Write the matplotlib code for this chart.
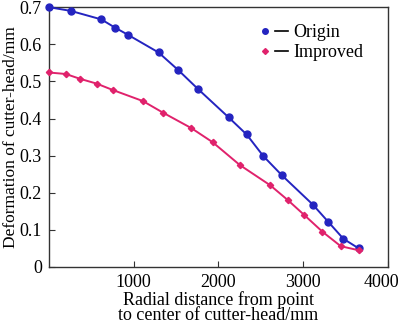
import matplotlib.pyplot as plt
import matplotlib.transforms as mtransforms
from matplotlib.lines import Line2D
from matplotlib.legend_handler import HandlerTuple

plt.rcParams['font.family'] = ['Liberation Serif', 'DejaVu Serif']

# Data
x_origin = [0, 259, 620, 780, 938, 1294, 1529, 1757, 2121, 2333, 2529, 2749, 3114, 3294, 3474, 3655]
y_origin = [0.700, 0.690, 0.667, 0.645, 0.625, 0.578, 0.530, 0.480, 0.403, 0.357, 0.299, 0.247, 0.168, 0.122, 0.076, 0.050]

x_improved = [0, 200, 368, 565, 753, 1110, 1345, 1682, 1933, 2251, 2612, 2820, 3008, 3227, 3443, 3655]
y_improved = [0.524, 0.520, 0.507, 0.494, 0.477, 0.447, 0.416, 0.374, 0.336, 0.275, 0.220, 0.180, 0.141, 0.095, 0.056, 0.045]

blue = '#2424c0'
pink = '#e0226c'

fig = plt.figure(figsize=(4, 3.26), dpi=100)
ax = fig.add_axes([0.122, 0.181, 0.848, 0.797])

ax.plot(x_origin, y_origin, '-o', color=blue, ms=5, lw=1.4, clip_on=False, zorder=3)
ax.plot(x_improved, y_improved, '-D', color=pink, ms=3.2, lw=1.4, clip_on=False, zorder=3)

ax.set_xlim(0, 4000)
ax.set_ylim(0, 0.7)
ax.set_xticks([1000, 2000, 3000, 4000])
ax.set_yticks([0, 0.1, 0.2, 0.3, 0.4, 0.5, 0.6, 0.7])
ax.set_yticklabels(['0', '0.1', '0.2', '0.3', '0.4', '0.5', '0.6', '0.7'])
ax.tick_params(direction='in', length=4, labelsize=13, color='#333333', top=False, right=False)
ax.tick_params(axis='y', pad=5)
ax.tick_params(axis='x', pad=5)
# pull the last x label a bit inwards so it stays on the canvas
lab = ax.get_xticklabels()[-1]
lab.set_transform(lab.get_transform() + mtransforms.ScaledTranslation(-7 / 100, 0, fig.dpi_scale_trans))
for s in ax.spines.values():
    s.set_color('#333333')
    s.set_linewidth(1.0)

ax.set_xlabel('Radial distance from point\nto center of cutter-head/mm', fontsize=13, linespacing=0.85, labelpad=0)
ax.set_ylabel('Deformation of cutter-head/mm', fontsize=12.5, labelpad=0)

# legend: coloured dot then a black dash
h1 = (Line2D([], [], ls='none', marker='o', color=blue, ms=4),
      Line2D([], [], color='black', lw=1.2))
h2 = (Line2D([], [], ls='none', marker='D', color=pink, ms=3),
      Line2D([], [], color='black', lw=1.2))
ax.legend([h1, h2], ['Origin', 'Improved'], handler_map={tuple: HandlerTuple(ndivide=None, pad=0.2)},
          loc='upper right', bbox_to_anchor=(0.97, 0.99), frameon=False, fontsize=13,
          handlelength=1.6, handletextpad=0.3, labelspacing=0.15, borderpad=0.3)

plt.savefig('out.png', dpi=100)
